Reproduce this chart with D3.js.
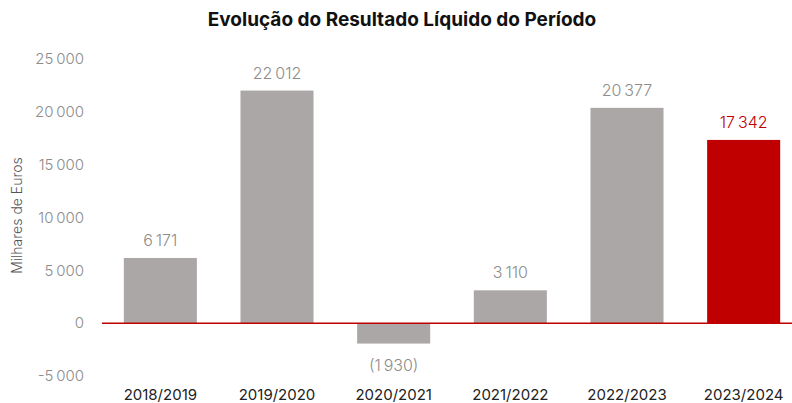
<!DOCTYPE html>
<html>
<head>
<meta charset="utf-8">
<script src="https://cdn.jsdelivr.net/npm/d3@7"></script>
<style>
  body { margin: 0; background: #fff; }
  svg { display: block; font-family: "Inter", "Lato", sans-serif; }
</style>
</head>
<body>
<div id="chart"></div>
<script>
const periods = ["2018/2019", "2019/2020", "2020/2021", "2021/2022", "2022/2023", "2023/2024"];
const results = [6171, 22012, -1930, 3110, 20377, 17342];
const yTicks = [-5000, 0, 5000, 10000, 15000, 20000, 25000];

const width = 792;
const height = 403;
const gray = "#aba7a6";
const red = "#c00000";

const svg = d3.select("#chart").append("svg")
  .attr("width", width)
  .attr("height", height);

const x = d3.scaleBand(periods, [102, 802]).paddingInner(0.374).paddingOuter(0.187);
const y = d3.scaleLinear([-5000, 25000], [376, 59]);

const group = d3.formatLocale({ decimal: ",", thousands: "\u2009", grouping: [3] }).format(",d");
const labelFmt = v => v < 0 ? `(${group(-v)})` : group(v);
const tickFmt = v => v === 0 ? "0" : (v < 0 ? "-" : "") + d3.format("d")(Math.floor(Math.abs(v) / 1000)) + "\u2009000";

svg.append("text")
  .attr("x", 402).attr("y", 26)
  .attr("text-anchor", "middle")
  .attr("font-size", 19).attr("font-weight", 700)
  .attr("fill", "#111")
  .text("Evolução do Resultado Líquido do Período");

// y axis (labels only)
const yAxis = svg.append("g")
  .attr("transform", "translate(84,0)")
  .call(d3.axisLeft(y).tickValues(yTicks).tickFormat(tickFmt).tickSize(0).tickPadding(0));
yAxis.select(".domain").remove();
yAxis.selectAll("text").attr("font-size", 15).attr("font-weight", 300)
  .attr("fill", "#8c8c8c").attr("font-family", "Inter, sans-serif");

svg.append("text")
  .attr("transform", `translate(22,${y(10000) - 2}) rotate(-90)`)
  .attr("text-anchor", "middle")
  .attr("font-size", 14).attr("font-weight", 300).attr("fill", "#555")
  .text("Milhares de Euros");

// bars
svg.selectAll(".bar")
  .data(periods)
  .join("rect")
  .attr("class", "bar")
  .attr("x", d => x(d))
  .attr("width", x.bandwidth())
  .attr("y", (d, i) => y(Math.max(0, results[i])))
  .attr("height", (d, i) => Math.abs(y(results[i]) - y(0)))
  .attr("fill", (d, i) => i === periods.length - 1 ? red : gray);

// zero line
svg.append("line")
  .attr("x1", 102).attr("x2", width)
  .attr("y1", y(0)).attr("y2", y(0))
  .attr("stroke", red).attr("stroke-width", 1.5);

// value labels
svg.selectAll(".val")
  .data(periods)
  .join("text")
  .attr("class", "val")
  .attr("x", d => x(d) + x.bandwidth() / 2)
  .attr("y", (d, i) => results[i] < 0 ? y(results[i]) + 27 : y(results[i]) - 12)
  .attr("text-anchor", "middle")
  .attr("font-size", 16).attr("font-weight", 300)
  .attr("fill", (d, i) => i === periods.length - 1 ? red : "#8c8c8c")
  .text((d, i) => labelFmt(results[i]));

// x axis labels
const xAxis = svg.append("g")
  .attr("transform", "translate(0,389)")
  .call(d3.axisBottom(x).tickSize(0).tickPadding(0));
xAxis.select(".domain").remove();
xAxis.selectAll("text").attr("font-size", 15).attr("font-weight", 400)
  .attr("fill", "#222").attr("font-family", "Inter, sans-serif");
</script>
</body>
</html>
